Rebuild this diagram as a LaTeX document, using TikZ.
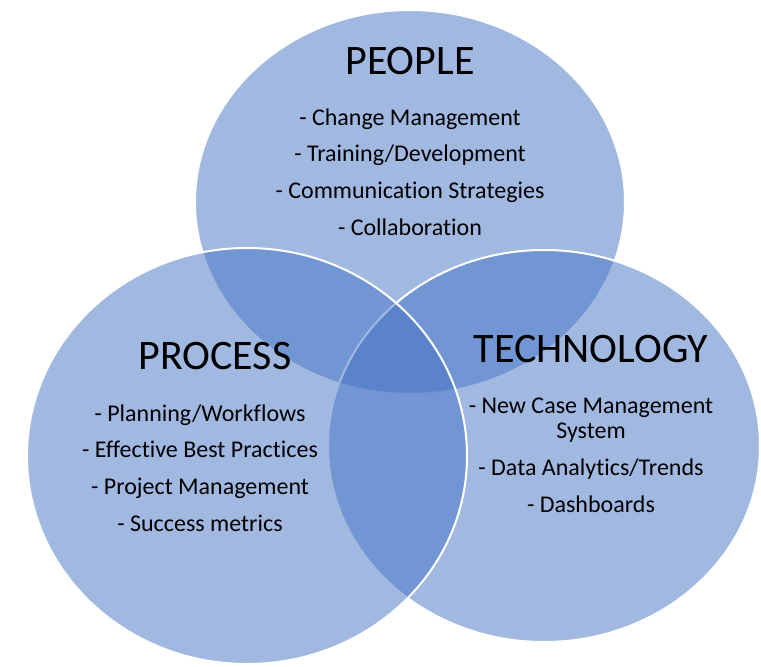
\documentclass[tikz,border=0pt]{standalone}
\usepackage{fontspec}
\setmainfont{Carlito}[Ligatures=NoCommon]
\usetikzlibrary{positioning}
\usepackage{xcolor}
\definecolor{vennblue}{HTML}{4472C4}

\begin{document}
\begin{tikzpicture}[x=0.75pt,y=-0.75pt,%
		   venn/.style={draw=white,line width=1.5pt,fill=vennblue,fill opacity=0.5},
		   heading/.style={font=\fontsize{31.5}{36}\selectfont,inner sep=0pt},
		   points/.style={font=\fontsize{18}{19}\selectfont,align=center,inner sep=0pt}]

	\useasboundingbox (0,0) rectangle (761,667);
	% circles, back to front: people, technology, process
	\foreach \cx/\cy/\rx/\ry in {410/202/215/192, 544/446/216/196, 247/456/220/208}
	   \draw[venn] (\cx,\cy) ellipse [x radius=\rx, y radius=\ry];

	\node[heading] (people) at (410,61) {PEOPLE};
	\node[heading] (process) at (215,356) {PROCESS};
	\node[heading] (technology) at (591,349) {TECHNOLOGY};

	\node[points] (people-list) at (410,172) {- Change Management\\[8.5pt]
	   - Training/Development\\[8.5pt]
	   - Communication Strategies\\[8.5pt]
	   - Collaboration};
	\node[points] (process-list) at (200,468) {- Planning/Workflows\\[8.5pt]
	   - Effective Best Practices\\[8.5pt]
	   - Project Management\\[8.5pt]
	   - Success metrics};
	\node[points] (technology-list) at (591,455) {- New Case Management\\
	   System\\[8.5pt]
	   - Data Analytics/Trends\\[8.5pt]
	   - Dashboards};
\end{tikzpicture}
\end{document}
